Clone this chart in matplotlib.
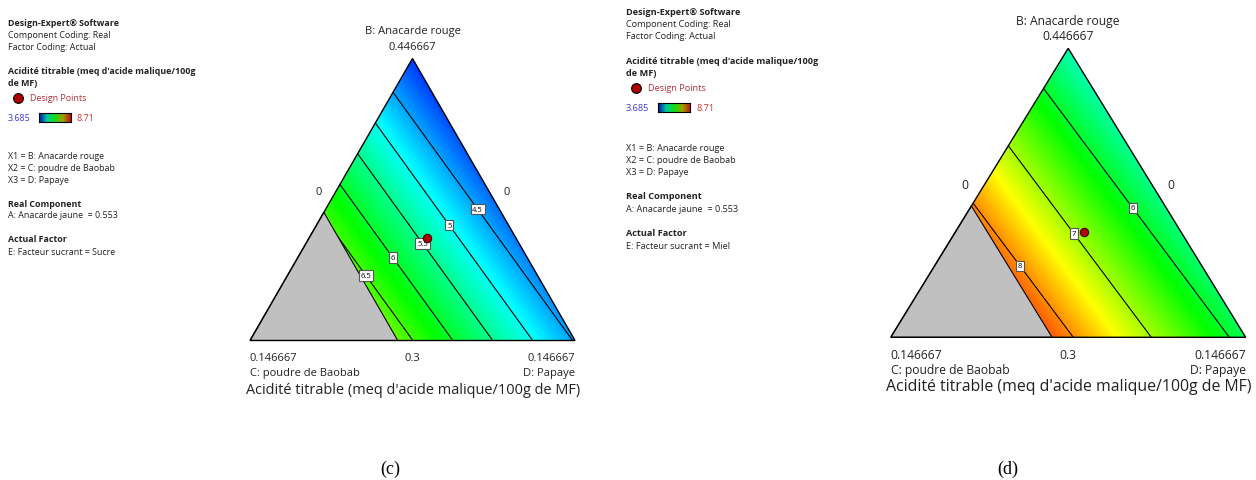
import numpy as np
import matplotlib
matplotlib.use('Agg')
import matplotlib.pyplot as plt
from matplotlib.colors import LinearSegmentedColormap
from matplotlib.patches import Polygon

plt.rcParams['font.family'] = ['Open Sans', 'DejaVu Sans']

# ---- data ----
resp_min, resp_max = 3.685, 8.71
B_hi, B_lo = 0.446667, 0.3          # real B at apex / bottom edge
C_hi, D_hi = 0.146667, 0.146667     # real C, D at their vertices
C_limit = 0.08                      # C constraint (gray = infeasible)
A_fixed = 0.553

# linear mixture model (pseudo components B, C, D)
coef_sucre = [3.95, 8.54, 4.47]
coef_miel = [5.30, 10.34, 5.79]
levels_sucre = [4.5, 5, 5.5, 6, 6.5]
levels_miel = [6, 7, 8]
# design point (real units B, C, D)
design_pt = [0.3535, 0.040, 0.0532]
sweeteners = ['Sucre', 'Miel']
panel_tags = ['(c)', '(d)']

W, H = 1256, 481
fig = plt.figure(figsize=(W / 100, H / 100), dpi=100)

cmap = LinearSegmentedColormap.from_list(
    'dx', ['#0000ff', '#00ffff', '#00ff00', '#ffff00', '#ff0000'])
bar_cmap = LinearSegmentedColormap.from_list(
    'bar', ['#0010b0', '#00c8a0', '#10e010', '#a0a000', '#c01010'])

SQ = np.sqrt(3) / 2


def to_xy(uB, uC, uD):
    return uD + 0.5 * uB, uB * SQ


def px_axes(x0, y0, x1, y1):
    return fig.add_axes([x0 / W, 1 - y1 / H, (x1 - x0) / W, (y1 - y0) / H])


def info_block(x, y0, dy, fs, sweet):
    rows = [
        ("Design-Expert® Software", 'bold', 0),
        ("Component Coding: Real", 'normal', 1),
        ("Factor Coding: Actual", 'normal', 2),
        ("Acidité titrable (meq d'acide malique/100g", 'bold', 4.05),
        ("de MF)", 'bold', 5.05),
        ("X1 = B: Anacarde rouge", 'normal', 11.2),
        ("X2 = C: poudre de Baobab", 'normal', 12.2),
        ("X3 = D: Papaye", 'normal', 13.2),
        ("Real Component", 'bold', 15.2),
        ("A: Anacarde jaune  = %.3f" % A_fixed, 'normal', 16.2),
        ("Actual Factor", 'bold', 18.2),
        ("E: Facteur sucrant = %s" % sweet, 'normal', 19.25),
    ]
    for txt, w, k in rows:
        fig.text(x / W, 1 - (y0 + k * dy) / H, txt, fontsize=fs,
                 fontweight=w, va='center', ha='left', color='#222222')
    yd = y0 + 6.3 * dy
    fig.text((x + 22 * dy / 12) / W, 1 - yd / H, 'Design Points', fontsize=fs,
             color='#b0303a', va='center')
    fig.lines.append(plt.Line2D([(x + 10 * dy / 12) / W], [1 - yd / H],
                                transform=fig.transFigure, marker='o',
                                ms=7, mfc='#b00000', mec='black', mew=0.8))
    yb = y0 + 7.95 * dy
    fig.text(x / W, 1 - yb / H, '%.3f' % resp_min, fontsize=fs,
             color='#3a3acc', va='center')
    bx0 = x + 31.5 * dy / 12
    bw = 32 * dy / 12
    cax = px_axes(bx0, yb - 4.5, bx0 + bw, yb + 4.5)
    cax.imshow(np.linspace(0, 1, 100)[None, :], cmap=bar_cmap, aspect='auto')
    cax.set_xticks([])
    cax.set_yticks([])
    for s in cax.spines.values():
        s.set_linewidth(0.8)
    fig.text((bx0 + bw + 6) / W, 1 - yb / H, '%g' % resp_max, fontsize=fs,
             color='#cc3333', va='center')


def ternary(box, coef, levels, label_pos, fs, sweet):
    x0, y0, x1, y1 = box
    ax = px_axes(x0, y0, x1, y1)
    ax.set_xlim(0, 1)
    ax.set_ylim(0, SQ)
    ax.axis('off')

    n = 500
    gx, gy = np.meshgrid(np.linspace(0, 1, n), np.linspace(0, SQ, n))
    uB = gy / SQ
    uD = gx - 0.5 * uB
    uC = 1 - uB - uD
    Z = coef[0] * uB + coef[1] * uC + coef[2] * uD

    uc_lim = C_limit / C_hi
    feas = [to_xy(1, 0, 0), to_xy(0, 0, 1), to_xy(0, uc_lim, 1 - uc_lim),
            to_xy(1 - uc_lim, uc_lim, 0)]
    clip = Polygon(feas, closed=True, transform=ax.transData, fc='none')

    im = ax.imshow(Z, extent=[0, 1, 0, SQ], origin='lower', cmap=cmap,
                   vmin=resp_min, vmax=resp_max, aspect='auto')
    im.set_clip_path(clip)
    cs = ax.contour(gx, gy, Z, levels=levels, colors='black', linewidths=0.8)
    cs.set_clip_path(clip)
    manual = [(px, py * SQ) for px, py in label_pos]
    labs = ax.clabel(cs, fmt='%g', fontsize=5.5, inline=False, manual=manual)
    for t in labs:
        t.set_rotation(0)
        t.set_bbox(dict(fc='white', ec='#555555', lw=0.8, pad=1.2))

    gray = [to_xy(0, 1, 0), to_xy(0, uc_lim, 1 - uc_lim),
            to_xy(1 - uc_lim, uc_lim, 0)]
    ax.add_patch(Polygon(gray, closed=True, fc='#c0c0c0', ec='black', lw=0.8))
    tri = [to_xy(1, 0, 0), to_xy(0, 1, 0), to_xy(0, 0, 1)]
    ax.add_patch(Polygon(tri, closed=True, fc='none', ec='black', lw=1.0,
                         clip_on=False))

    dB, dC, dD = design_pt
    pB = (dB - B_lo) / (B_hi - B_lo)
    pC = dC / C_hi
    pD = 1 - pB - pC
    ax.plot(*to_xy(pB, pC, pD), 'o', ms=6, mfc='#b00000', mec='#400000',
            mew=0.8, zorder=10)

    cx = (x0 + x1) / 2
    w = x1 - x0
    ht = y1 - y0

    def t(px, py, s, ha='center', size=fs):
        fig.text(px / W, 1 - py / H, s, ha=ha, va='center', fontsize=size,
                 color='#222222')
    t(cx, y0 - 28, 'B: Anacarde rouge')
    t(cx, y0 - 12.5, '%g' % B_hi)
    t(x0 + 0.21 * w, y0 + 0.47 * ht, '0')
    t(x1 - 0.21 * w, y0 + 0.47 * ht, '0')
    t(x0, y1 + 17, '%g' % C_hi, ha='left')
    t(x0, y1 + 32, 'C: poudre de Baobab', ha='left')
    t(cx, y1 + 17, '%g' % B_lo)
    t(x1, y1 + 17, '%g' % D_hi, ha='right')
    t(x1, y1 + 32, 'D: Papaye', ha='right')
    t(cx + 0.5, y1 + 49, "Acidité titrable (meq d'acide malique/100g de MF)",
      size=fs * 1.31)
    return ax


info_block(8, 24, 11.85, 6.4, sweeteners[0])
info_block(626, 12.3, 12.15, 6.6, sweeteners[1])

ternary((250, 59.5, 575, 341.5), coef_sucre, levels_sucre,
        [(0.713, 0.476), (0.626, 0.419), (0.542, 0.354), (0.451, 0.304),
         (0.369, 0.241)], 8.0, sweeteners[0])
ternary((890.7, 49.3, 1245.7, 338.3), coef_miel, levels_miel,
        [(0.689, 0.455), (0.522, 0.365), (0.371, 0.254)], 8.7, sweeteners[1])

for tag, px in zip(panel_tags, [390, 1008]):
    fig.text(px / W, 1 - 469 / H, tag, ha='center', va='center', fontsize=13,
             family='Liberation Serif')

fig.savefig('out.png', dpi=100)
